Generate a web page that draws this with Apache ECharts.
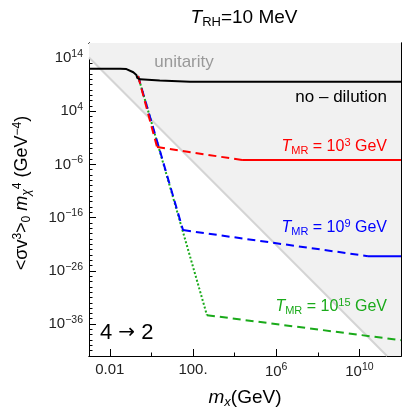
<!DOCTYPE html>
<html>
<head>
<meta charset="utf-8">
<script src="https://cdn.jsdelivr.net/npm/echarts@6/dist/echarts.min.js"></script>
<style>
html,body{margin:0;padding:0;background:#fff;}
#main{width:403px;height:413px;}
</style>
</head>
<body>
<div id="main"></div>
<script>
// all values are log10 of m_x (GeV) and of <sigma v^3>_0 m^4 (GeV^-4)
var xMajor = [-2, 2, 6, 10];
var xMinor = [0, 4, 8];
var yMajor = [14, 4, -6, -16, -26, -36];
var yMinor = [16, 15, 13, 12, 11, 10, 9, 8, 7, 6, 5, 3, 2, 1, 0, -1, -2, -3, -4, -5, -7, -8, -9, -10, -11, -12, -13, -14, -15,
              -17, -18, -19, -20, -21, -22, -23, -24, -25, -27, -28, -29, -30, -31, -32, -33, -34, -35, -37, -38, -39, -40, -41];

var unitLogM = [-3, 11.33];
var unitLogY = [14.07, -42];

var noDilLogM = [-3, -1.5, -1.2, -0.87, -0.72, -0.68, -0.55, 0.4, 1.86, 12];
var noDilLogY = [11.95, 11.95, 11.9, 11.3, 10.8, 10.25, 9.98, 9.75, 9.53, 9.53];

var startLog = [-0.64, 10.6];
// T_MR = 1e3
var redLogM = [0.27, 4.36, 12];
var redLogY = [-2.75, -5.19, -5.19];
// T_MR = 1e9
var blueLogM = [1.52, 10.41, 12];
var blueLogY = [-18.35, -23.24, -23.24];
// T_MR = 1e15
var greenLogM = [2.67, 12];
var greenLogY = [-34.33, -39.03];

function pts(xs, ys){
    return xs.map(function(x, i){ return [x, ys[i]]; });
}
function seg(a, b, color, type, z){
    return {
        type: 'line', data: [a, b], symbol: 'none', silent: true, z: z,
        lineStyle: {color: color, width: 2, type: type}
    };
}
var dash = [8, 5];

var supRich = {
    b: {fontSize: 15, color: '#222', fontFamily: 'Liberation Sans'},
    s: {fontSize: 10.5, color: '#222', fontFamily: 'Liberation Sans', verticalAlign: 'bottom', padding: [0, 0, 8, 0]}
};
function powLabel(v){
    if (v === -2) return '{b|0.01}';
    if (v === 2) return '{b|100.}';
    return '{b|10}{s|' + (v < 0 ? '\u2212' + (-v) : v) + '}';
}

var myChart = echarts.init(document.getElementById('main'));

function xAx(pos, vals, len, labels){
    return {
        type: 'value', min: -3, max: 12, position: pos,
        axisLine: {show: true, onZero: false, lineStyle: {color: '#000', width: 1}},
        axisTick: {show: true, inside: true, length: len, customValues: vals, lineStyle: {color: '#000'}},
        axisLabel: {show: labels, customValues: vals, margin: 6, formatter: powLabel, rich: supRich},
        splitLine: {show: false}
    };
}
function yAx(pos, vals, len, labels){
    return {
        type: 'value', min: -42, max: 16.8, position: pos,
        axisLine: {show: true, onZero: false, lineStyle: {color: '#000', width: 1}},
        axisTick: {show: true, inside: true, length: len, customValues: vals, lineStyle: {color: '#000'}},
        axisLabel: {show: labels, customValues: vals, margin: 6, formatter: powLabel, rich: supRich},
        splitLine: {show: false}
    };
}

function lbl(x, y, rich, text, align, color, size){
    return {
        type: 'text', x: x, y: y, z: 50,
        style: {text: text, rich: rich, align: align, verticalAlign: 'middle',
            fill: color, fontSize: size, fontFamily: 'Liberation Sans'}
    };
}
function tmrRich(c){
    return {
        i: {fontStyle: 'italic', fontSize: 16, color: c, fontFamily: 'Liberation Sans'},
        sub: {fontSize: 11, color: c, fontFamily: 'Liberation Sans', verticalAlign: 'top', padding: [8, 0, 0, 0]},
        n: {fontSize: 16, color: c, fontFamily: 'Liberation Sans'},
        sup: {fontSize: 11, color: c, fontFamily: 'Liberation Sans', verticalAlign: 'bottom', padding: [0, 0, 8, 0]}
    };
}

var option = {
    animation: false,
    grid: {left: 89, top: 43, right: 2, bottom: 57, containLabel: false},
    xAxis: [
        xAx('bottom', xMajor, 7, true),
        xAx('bottom', xMinor, 3.5, false),
        xAx('top', xMajor, 7, false),
        xAx('top', xMinor, 3.5, false)
    ],
    yAxis: [
        yAx('left', yMajor, 7, true),
        yAx('left', yMinor, 3.5, false),
        yAx('right', yMajor, 7, false),
        yAx('right', yMinor, 3.5, false)
    ],
    series: [
        {
            // unitarity region
            type: 'line', symbol: 'none', silent: true, z: 1,
            data: pts(unitLogM, unitLogY).concat([[12, -42]]),
            lineStyle: {width: 0, opacity: 0},
            areaStyle: {color: '#f1f1f1', opacity: 1, origin: 'end'}
        },
        {
            type: 'line', symbol: 'none', silent: true, z: 2,
            data: pts(unitLogM, unitLogY),
            lineStyle: {color: '#d4d4d4', width: 2}
        },
        {
            type: 'line', symbol: 'none', silent: true, z: 10,
            data: pts(noDilLogM, noDilLogY),
            lineStyle: {color: '#000', width: 2}
        },
        seg(startLog, [greenLogM[0], greenLogY[0]], '#1aaa1a', 'dotted', 5),
        seg([greenLogM[0], greenLogY[0]], [greenLogM[1], greenLogY[1]], '#1aaa1a', dash, 5),
        seg(startLog, [blueLogM[0], blueLogY[0]], '#0000ff', dash, 6),
        seg([blueLogM[0], blueLogY[0]], [blueLogM[1], blueLogY[1]], '#0000ff', dash, 6),
        seg([blueLogM[1], blueLogY[1]], [blueLogM[2], blueLogY[2]], '#0000ff', 'solid', 6),
        seg(startLog, [redLogM[0], redLogY[0]], '#ff0000', dash, 7),
        seg([redLogM[0], redLogY[0]], [redLogM[1], redLogY[1]], '#ff0000', dash, 7),
        seg([redLogM[1], redLogY[1]], [redLogM[2], redLogY[2]], '#ff0000', 'solid', 7)
    ],
    graphic: [
        lbl(244, 18, {
            i: {fontStyle: 'italic', fontSize: 19, fontFamily: 'Liberation Sans', color: '#000'},
            sub: {fontSize: 13, fontFamily: 'Liberation Sans', color: '#000', verticalAlign: 'top', padding: [9, 0, 0, 0]},
            n: {fontSize: 19, fontFamily: 'Liberation Sans', color: '#000'}
        }, '{i|T}{sub|RH}{n|=10 MeV}', 'center', '#000', 19),
        lbl(184, 62, null, 'unitarity', 'center', '#999', 17),
        lbl(387, 97, null, 'no \u2013 dilution', 'right', '#000', 17),
        lbl(387, 147, tmrRich('#ff0000'), '{i|T}{sub|MR}{n| = 10}{sup|3}{n| GeV}', 'right', '#ff0000', 16),
        lbl(387, 228, tmrRich('#0000ff'), '{i|T}{sub|MR}{n| = 10}{sup|9}{n| GeV}', 'right', '#0000ff', 16),
        lbl(387, 307, tmrRich('#1aaa1a'), '{i|T}{sub|MR}{n| = 10}{sup|15}{n| GeV}', 'right', '#1aaa1a', 16),
        lbl(100, 333, {
            n: {fontSize: 22, fontFamily: 'Liberation Sans', color: '#000'},
            a: {fontSize: 20, fontFamily: 'DejaVu Sans', color: '#000'}
        }, '{n|4 }{a|\u2192}{n| 2}', 'left', '#000', 22),
        lbl(245, 398, {
            i: {fontStyle: 'italic', fontSize: 19, fontFamily: 'Liberation Sans', color: '#000'},
            sub: {fontSize: 13, fontStyle: 'italic', fontFamily: 'Liberation Sans', color: '#000', verticalAlign: 'top', padding: [9, 0, 0, 0]},
            n: {fontSize: 19, fontFamily: 'Liberation Sans', color: '#000'}
        }, '{i|m}{sub|x}{n|(GeV)}', 'center', '#000', 19),
        {
            type: 'text', x: 22, y: 193, rotation: Math.PI / 2, z: 50,
            style: {
                text: '{n|<\u03c3v}{sup|3}{n|>}{sub|0}{n| }{i|m}{isub|\u03c7}{sup|4}{n| (GeV}{sup|\u22124}{n|)}',
                align: 'center', verticalAlign: 'middle',
                rich: {
                    n: {fontSize: 18, fontFamily: 'Liberation Sans', color: '#000'},
                    i: {fontSize: 18, fontStyle: 'italic', fontFamily: 'Liberation Sans', color: '#000'},
                    sup: {fontSize: 12, fontFamily: 'Liberation Sans', color: '#000', verticalAlign: 'bottom', padding: [0, 0, 9, 0]},
                    sub: {fontSize: 12, fontFamily: 'Liberation Sans', color: '#000', verticalAlign: 'top', padding: [9, 0, 0, 0]},
                    isub: {fontSize: 12, fontStyle: 'italic', fontFamily: 'Liberation Sans', color: '#000', verticalAlign: 'top', padding: [9, 0, 0, 0]}
                }
            }
        }
    ]
};
myChart.setOption(option);
window.onresize = function(){
    myChart.resize();
};
</script>
</body>
</html>
